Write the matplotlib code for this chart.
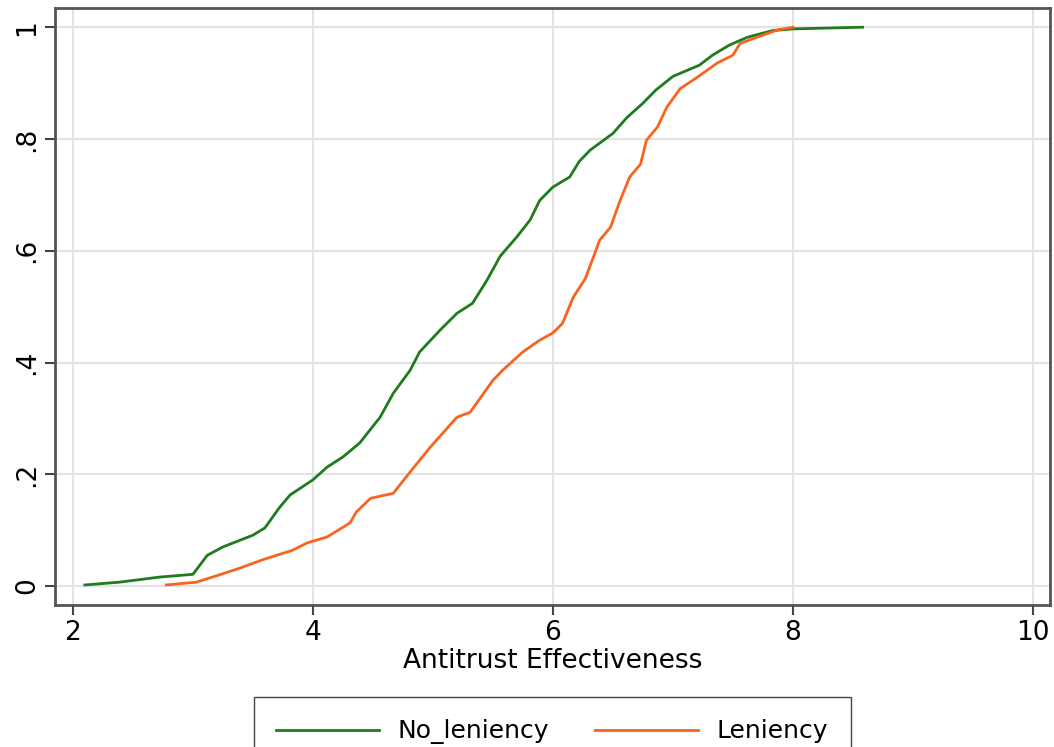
import numpy as np
import matplotlib.pyplot as plt

plt.rcParams['font.family'] = ['DejaVu Sans']

no_len_x = [2.10, 2.39, 2.72, 3.00, 3.05, 3.12, 3.25, 3.50, 3.60, 3.72, 3.81, 4.00,
            4.12, 4.25, 4.39, 4.56, 4.67, 4.81, 4.89, 5.06, 5.20, 5.33, 5.45, 5.56,
            5.70, 5.81, 5.89, 6.00, 6.14, 6.22, 6.31, 6.50, 6.62, 6.75, 6.86, 7.00,
            7.22, 7.33, 7.47, 7.62, 7.83, 8.00, 8.58]
no_len_y = [0.002, 0.007, 0.016, 0.021, 0.035, 0.055, 0.070, 0.091, 0.104, 0.140,
            0.163, 0.190, 0.213, 0.231, 0.256, 0.302, 0.345, 0.386, 0.419, 0.458,
            0.488, 0.506, 0.547, 0.590, 0.625, 0.655, 0.690, 0.714, 0.732, 0.760,
            0.780, 0.810, 0.839, 0.864, 0.888, 0.912, 0.932, 0.950, 0.968, 0.982,
            0.994, 0.997, 1.000]

len_x = [2.78, 3.03, 3.22, 3.39, 3.58, 3.83, 3.95, 4.12, 4.31, 4.36, 4.48, 4.67,
         4.81, 4.98, 5.20, 5.31, 5.50, 5.58, 5.75, 5.89, 6.00, 6.08, 6.17, 6.27,
         6.39, 6.48, 6.56, 6.64, 6.73, 6.78, 6.87, 6.95, 7.06, 7.20, 7.37, 7.50,
         7.56, 7.70, 7.87, 8.00]
len_y = [0.002, 0.007, 0.020, 0.032, 0.047, 0.064, 0.077, 0.088, 0.113, 0.132,
         0.157, 0.166, 0.204, 0.249, 0.302, 0.311, 0.368, 0.386, 0.419, 0.440,
         0.453, 0.470, 0.517, 0.550, 0.619, 0.642, 0.690, 0.732, 0.755, 0.798,
         0.821, 0.857, 0.890, 0.910, 0.936, 0.950, 0.971, 0.982, 0.995, 1.000]

green = '#1e7b1e'
orange = '#f8641e'

fig = plt.figure(figsize=(10.54, 7.47), dpi=100)
ax = fig.add_axes([0.052, 0.19, 0.944, 0.799])

ax.plot(no_len_x, no_len_y, color=green, lw=2, label='No_leniency')
ax.plot(len_x, len_y, color=orange, lw=2, label='Leniency')

ax.set_xlim(1.85, 10.14)
ax.set_ylim(-0.034, 1.034)
ax.set_xticks([2, 4, 6, 8, 10])
ax.set_yticks([0, 0.2, 0.4, 0.6, 0.8, 1])
ax.set_yticklabels(['0', '.2', '.4', '.6', '.8', '1'], rotation=90, va='center')
ax.grid(True, color='#e3e3e3', lw=1.5)
ax.set_axisbelow(True)
ax.tick_params(labelsize=19, length=7, width=1.5, color='#444444')
for s in ax.spines.values():
    s.set_color('#555555')
    s.set_linewidth(2)
ax.set_xlabel('Antitrust Effectiveness', fontsize=19, labelpad=2)

fig.legend(loc='upper center', bbox_to_anchor=(0.524, 0.067), ncol=2, fontsize=18,
           fancybox=False, edgecolor='#444444', handlelength=4.1, handletextpad=0.75,
           columnspacing=1.85, borderpad=0.9, borderaxespad=0, framealpha=1)

plt.savefig('out.png', dpi=100)
